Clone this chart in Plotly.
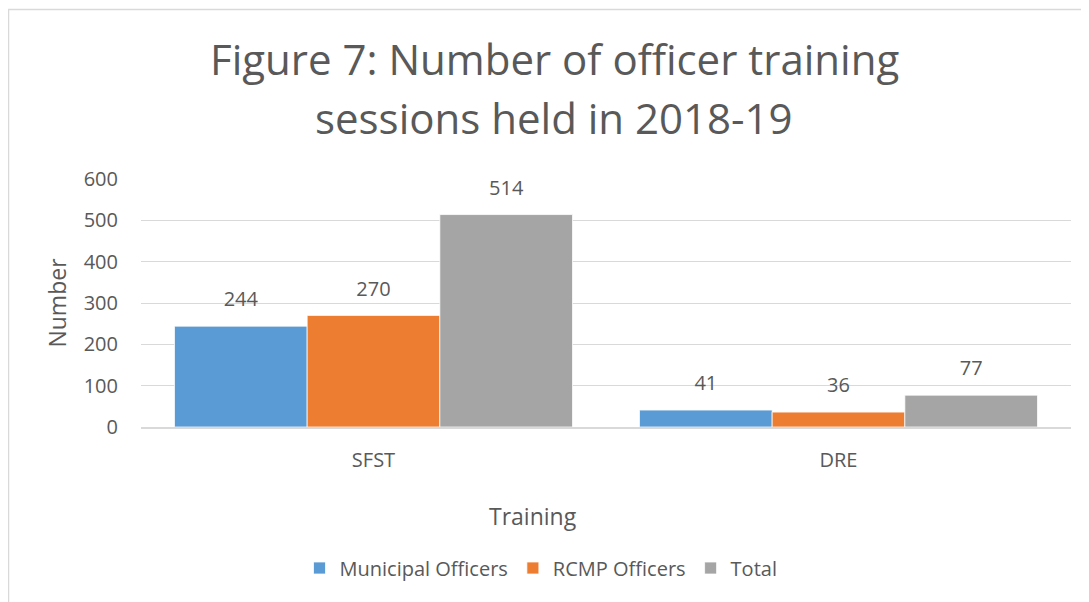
import plotly.graph_objects as go

categories = ["SFST", "DRE"]
series_names = ["Municipal Officers", "RCMP Officers", "Total"]
municipal = [244, 41]
rcmp = [270, 36]
total = [514, 77]
colors = ["#5B9BD5", "#ED7D31", "#A5A5A5"]
y_ticks = [0, 100, 200, 300, 400, 500, 600]
title_lines = ["Figure 7: Number of officer training", "sessions held in 2018-19"]
x_title = "Training"
y_title = "Number"

FONT = "Open Sans"
TXT = "#595959"

# figure is placed at (8, 8) in the page
W, H = 1081, 594
L, T, PW, PH = 133, 171, 930, 248

fig = go.Figure()
for name, vals, col in zip(series_names, [municipal, rcmp, total], colors):
    fig.add_trace(go.Bar(
        x=categories, y=vals, name=name,
        marker=dict(color=col, line=dict(color="white", width=0.75)),
        hoverinfo="skip",
    ))
for name, vals in zip(series_names, [municipal, rcmp, total]):
    fig.add_trace(go.Scatter(
        x=categories, y=vals, mode="markers+text",
        text=[str(v) for v in vals], textposition="top center",
        textfont=dict(family=FONT, size=20, color=TXT),
        marker=dict(size=22, opacity=0),
        showlegend=False, hoverinfo="skip",
    ))

fig.update_layout(
    width=W, height=H,
    margin=dict(l=L, r=W - L - PW, t=T, b=H - T - PH),
    paper_bgcolor="white", plot_bgcolor="white",
    barmode="group", bargap=0.144, bargroupgap=0,
    scattermode="group", scattergap=0.144,
    font=dict(family=FONT, color=TXT, size=20),
    showlegend=True,
    legend=dict(orientation="h", xref="container", yref="container",
                x=(541 - 8) / W, xanchor="center", y=1 - (568 - 8) / H, yanchor="middle",
                font=dict(size=20, color=TXT), itemwidth=30),
)
fig.update_yaxes(
    range=[0, 600], tickvals=y_ticks, showgrid=True, gridcolor="#D9D9D9", gridwidth=1,
    zeroline=False, showline=False, ticklabelstandoff=22,
    tickfont=dict(size=20, color=TXT),
    title=dict(text=y_title, font=dict(size=23, color=TXT), standoff=10),
)
fig.update_xaxes(
    showline=True, linecolor="#D9D9D9", linewidth=1.5, showgrid=False,
    ticklabelstandoff=14, tickfont=dict(size=20, color=TXT),
)

fig.add_annotation(
    text=x_title, xref="paper", yref="paper",
    x=(533 - 8 - L) / PW, y=1 - (516 - 8 - T) / PH,
    xanchor="center", yanchor="middle", showarrow=False,
    font=dict(family=FONT, size=23, color=TXT),
)
for line, ypx in zip(title_lines, [50, 110]):
    fig.add_annotation(
        text=line, xref="paper", yref="paper",
        x=(554 - 8 - L) / PW, y=1 + (T - ypx) / PH,
        xanchor="center", yanchor="middle", showarrow=False,
        font=dict(family=FONT, size=42, color=TXT),
    )
fig.add_shape(type="rect", xref="paper", yref="paper",
              x0=(0.5 - L) / PW, x1=(W + 20 - L) / PW,
              y0=1 - (H + 20 - T) / PH, y1=1 + (T - 1.5) / PH,
              line=dict(color="#D9D9D9", width=1.5), fillcolor="rgba(0,0,0,0)", layer="below")

fig.write_html("out.html")
